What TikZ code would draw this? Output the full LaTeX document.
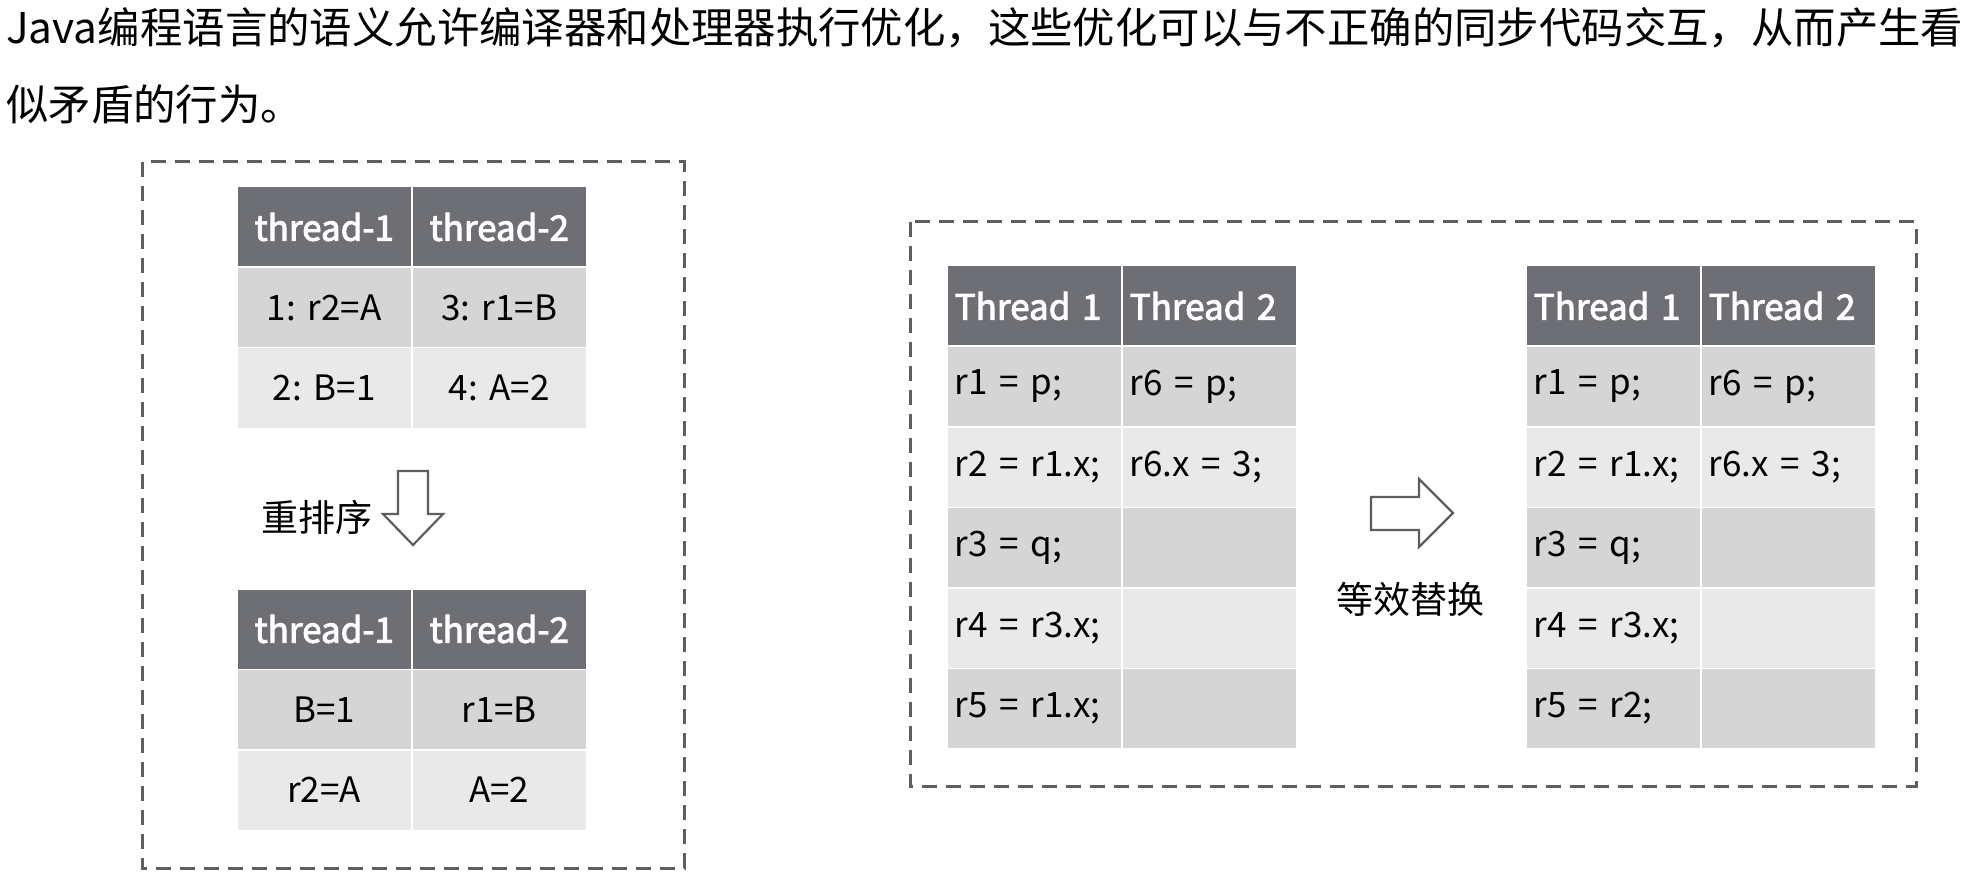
\documentclass[tikz,border=0pt]{standalone}
\usepackage{fontspec}
\setmainfont{Noto Sans CJK SC}
\newcommand\tightsp{\fontdimen2\font=0.15em\fontdimen3\font=0pt\fontdimen4\font=0pt}
\newcommand\hdbold{\special{pdf:literal direct 0.9 w 2 Tr}}
\definecolor{hdr}{HTML}{6E6F75}
\definecolor{rowa}{HTML}{D5D5D5}
\definecolor{rowb}{HTML}{E9E9E9}
\definecolor{dashc}{HTML}{5E5E5E}
\frenchspacing
\begin{document}
\begin{tikzpicture}[x=1pt,y=-1pt,
 cell/.style={anchor=north west, draw=white, line width=1.5pt, inner sep=0pt, minimum height=80.5pt, font=\fontsize{35}{40}\selectfont\tightsp},
 ccell/.style={cell, text width=175pt, align=center},
 lcell/.style={cell, text width=159pt, inner xsep=8pt, align=left},
 hd/.style={fill=hdr, text=white, execute at begin node=\hdbold, execute at end node=\special{pdf:literal direct 0 Tr}},
 ra/.style={fill=rowa}, rb/.style={fill=rowb},
 frame/.style={draw=dashc, line width=3pt, dash pattern=on 15pt off 9pt},
 blockarrow/.style={draw=dashc, line width=2.2pt, fill=white, line join=miter},
 lbl/.style={inner sep=0pt, font=\fontsize{37}{40}\selectfont},
 para/.style={anchor=west, inner sep=0pt, font=\fontsize{42.4}{46}\selectfont}]
\fill[white] (0,0) rectangle (1986,874);
\useasboundingbox (0,0) rectangle (1986,874);
% paragraph
\node[para] (line1) at (6,28) {Java编程语言的语义允许编译器和处理器执行优化，这些优化可以与不正确的同步代码交互，从而产生看};
\node[para] (line2) at (6,104) {似矛盾的行为。};
% frames
\draw[frame] (142,162) rectangle (684,868);
\draw[frame] (910,222) rectangle (1916,786);
% table 1
\node[ccell,hd] (t1h1) at (236,186) {thread-1};
\node[ccell,hd] (t1h2) at (411,186) {thread-2};
\node[ccell,ra] (t1a1) at (236,266.5) {1: r2=A};
\node[ccell,ra] (t1a2) at (411,266.5) {3: r1=B};
\node[ccell,rb] (t1b1) at (236,347) {2: B=1};
\node[ccell,rb] (t1b2) at (411,347) {4: A=2};
% reorder arrow
\node[lbl] (reorder) at (317,517) {重排序};
\draw[blockarrow] (398,471) -- (428,471) -- (428,514) -- (443,514) -- (413,545) -- (383,514) -- (398,514) -- cycle;
% table 2
\node[ccell,hd] (t2h1) at (236,588) {thread-1};
\node[ccell,hd] (t2h2) at (411,588) {thread-2};
\node[ccell,ra] (t2a1) at (236,668.5) {B=1};
\node[ccell,ra] (t2a2) at (411,668.5) {r1=B};
\node[ccell,rb] (t2b1) at (236,749) {r2=A};
\node[ccell,rb] (t2b2) at (411,749) {A=2};
% table 3
\node[lcell,hd] (t3h1) at (946,265) {Thread 1};
\node[lcell,hd] (t3h2) at (1121,265) {Thread 2};
\node[lcell,ra] (t3r11) at (946,345.5) {r1 = p;};
\node[lcell,ra] (t3r12) at (1121,345.5) {r6 = p;};
\node[lcell,rb] (t3r21) at (946,426) {r2 = r1.x;};
\node[lcell,rb] (t3r22) at (1121,426) {r6.x = 3;};
\node[lcell,ra] (t3r31) at (946,506.5) {r3 = q;};
\node[lcell,ra] (t3r32) at (1121,506.5) {};
\node[lcell,rb] (t3r41) at (946,587) {r4 = r3.x;};
\node[lcell,rb] (t3r42) at (1121,587) {};
\node[lcell,ra] (t3r51) at (946,667.5) {r5 = r1.x;};
\node[lcell,ra] (t3r52) at (1121,667.5) {};
% equivalent arrow
\draw[blockarrow] (1371,497) -- (1419,497) -- (1419,479) -- (1453,513) -- (1419,547) -- (1419,530) -- (1371,530) -- cycle;
\node[lbl] (equiv) at (1410,599) {等效替换};
% table 4
\node[lcell,hd] (t4h1) at (1525,265) {Thread 1};
\node[lcell,hd] (t4h2) at (1700,265) {Thread 2};
\node[lcell,ra] (t4r11) at (1525,345.5) {r1 = p;};
\node[lcell,ra] (t4r12) at (1700,345.5) {r6 = p;};
\node[lcell,rb] (t4r21) at (1525,426) {r2 = r1.x;};
\node[lcell,rb] (t4r22) at (1700,426) {r6.x = 3;};
\node[lcell,ra] (t4r31) at (1525,506.5) {r3 = q;};
\node[lcell,ra] (t4r32) at (1700,506.5) {};
\node[lcell,rb] (t4r41) at (1525,587) {r4 = r3.x;};
\node[lcell,rb] (t4r42) at (1700,587) {};
\node[lcell,ra] (t4r51) at (1525,667.5) {r5 = r2;};
\node[lcell,ra] (t4r52) at (1700,667.5) {};
\end{tikzpicture}
\end{document}
